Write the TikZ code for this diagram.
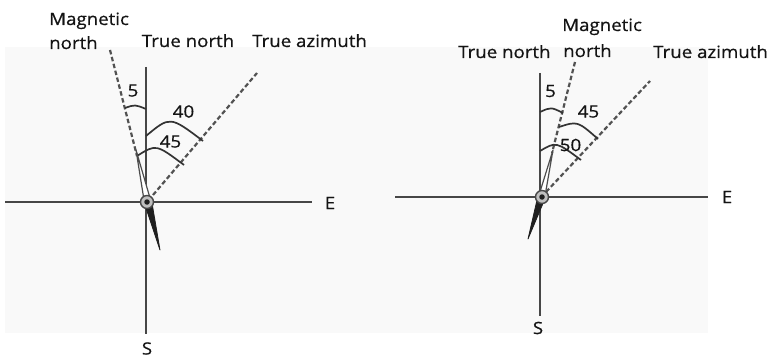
\documentclass[tikz,border=0pt]{standalone}
\usepackage{fontspec}
\setmainfont[FakeStretch=1.1,FakeBold=0.6]{Open Sans}
\begin{document}
\begin{tikzpicture}[x=1pt,y=-1pt,
  axisln/.style={draw=black!72, line width=1.9pt},
  dashln/.style={draw=black!68, line width=2.2pt, dash pattern=on 4.5pt off 2.6pt},
  arcln/.style={draw=black!80, line width=1.7pt},
  lbl/.style={font=\fontsize{17}{19}\selectfont, inner sep=0pt, text=black!92},
  northneedle/.style={draw=black!70, fill=white, line width=1.2pt, line join=round},
  southneedle/.style={draw=black!88, fill=black!88, line width=0.8pt, line join=round},
  pivotring/.style={circle, draw=black!72, fill=black!25, line width=1.4pt, minimum size=13pt, inner sep=0pt},
  pivotdot/.style={circle, fill=black!88, minimum size=5.5pt, inner sep=0pt}]
\useasboundingbox (0,0) rectangle (770,358);
\fill[black!2.5] (5,47) rectangle (708,333);

% ---------- left panel ----------
\coordinate (LNt) at (146,67);
\coordinate (LSb) at (146,334);
\coordinate (LWe) at (5,202);
\coordinate (LEe) at (312,202);
\coordinate (LMt) at (110,50);
\coordinate (LMb) at (137,156);
\coordinate (LAt) at (257,73);
\coordinate (LAb) at (153,195);
\draw[axisln] (LNt) -- (LSb);
\draw[axisln] (LWe) -- (LEe);
\draw[dashln] (LMt) -- (LMb);
\draw[dashln] (LAb) -- (LAt);
\draw[arcln] (125,108) .. controls (135,104.5) .. (146,109);
\draw[arcln] (146,136) .. controls (170,116) .. (203,141);
\draw[arcln] (137,156) .. controls (156,144) .. (184,165);
\draw[northneedle] (136,150) -- (144,200) -- (150,198) -- cycle;
\draw[southneedle] (145,205) -- (160,250) -- (152,203) -- cycle;
\node[pivotring] (LP) at (147,202) {};
\node[pivotdot] (LPd) at (147,202) {};
\node[lbl, anchor=base west] (LMag) at (49,25) {Magnetic};
\node[lbl, anchor=base west] (LMagn) at (49,49) {north};
\node[lbl, anchor=base] (LTN) at (188,47) {True north};
\node[lbl, anchor=base west] (LTA) at (252,47) {True azimuth};
\node[lbl] (LE) at (330,203) {E};
\node[lbl] (LS) at (147,348.5) {S};
\node[lbl] (L5) at (133,90.5) {5};
\node[lbl] (L40) at (183.5,111.5) {40};
\node[lbl] (L45) at (170.5,141.5) {45};

% ---------- right panel ----------
\coordinate (RNt) at (540,73);
\coordinate (RSb) at (540,316);
\coordinate (RWe) at (395,197);
\coordinate (REe) at (708,197);
\coordinate (RMt) at (575,62);
\coordinate (RMb) at (552,153);
\coordinate (RAt) at (650,81);
\coordinate (RAb) at (546,192);
\draw[axisln] (RNt) -- (RSb);
\draw[axisln] (RWe) -- (REe);
\draw[dashln] (RMt) -- (RMb);
\draw[dashln] (RAb) -- (RAt);
\draw[arcln] (540,112) .. controls (551,107) .. (563,113);
\draw[arcln] (559,127) .. controls (577.5,121) .. (598,139);
\draw[arcln] (540,151) .. controls (556,141.5) .. (581,160);
\draw[northneedle] (553,150) -- (539,195) -- (545,196) -- cycle;
\draw[southneedle] (537,200) -- (528,239) -- (544,201) -- cycle;
\node[pivotring] (RP) at (542,197) {};
\node[pivotdot] (RPd) at (542,197) {};
\node[lbl, anchor=base west] (RMag) at (562,31) {Magnetic};
\node[lbl, anchor=base west] (RMagn) at (563,57) {north};
\node[lbl, anchor=base west] (RTN) at (458,58) {True north};
\node[lbl, anchor=base west] (RTA) at (653,58) {True azimuth};
\node[lbl] (RE) at (727,197) {E};
\node[lbl] (RS) at (538,328) {S};
\node[lbl] (R5) at (550.5,91) {5};
\node[lbl] (R45) at (588.5,111.5) {45};
\node[lbl] (R50) at (570.5,145) {50};
\end{tikzpicture}
\end{document}
